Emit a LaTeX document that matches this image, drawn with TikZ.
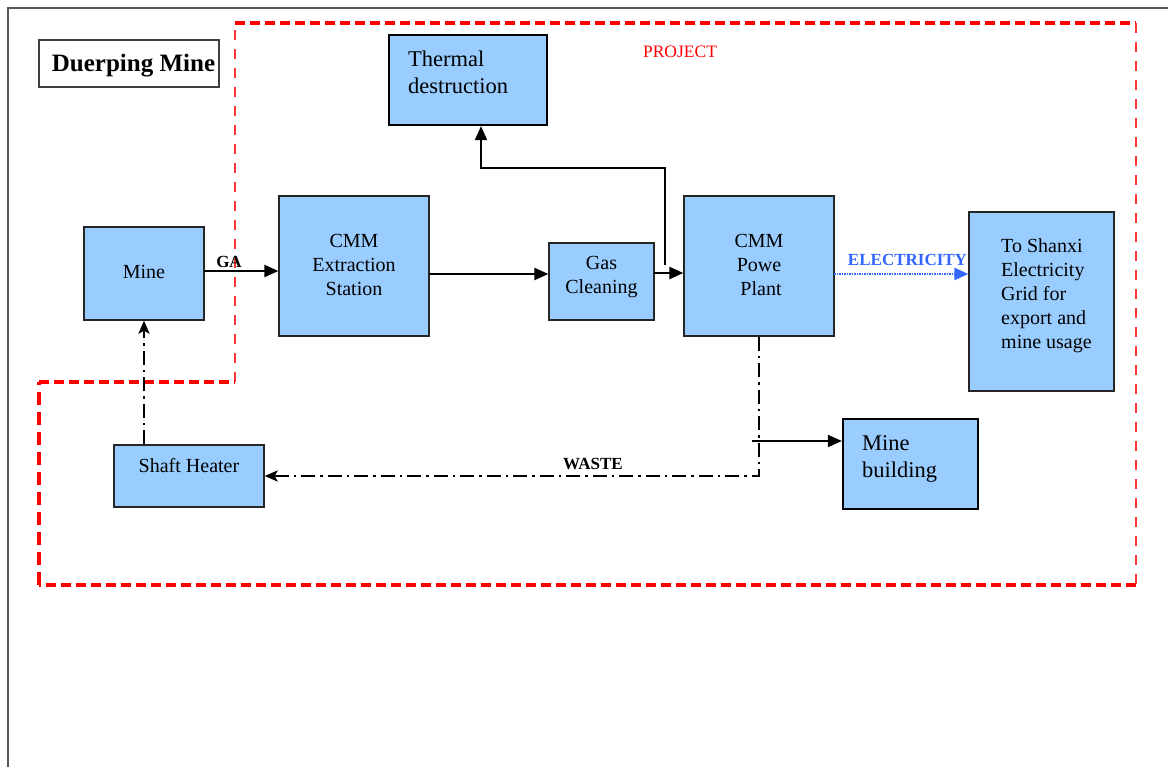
\documentclass[tikz,border=0pt]{standalone}
\usepackage{fontspec}
\setmainfont{Liberation Serif}
\usetikzlibrary{arrows.meta}
\definecolor{boxblue}{HTML}{99CCFF}
\definecolor{elblue}{HTML}{3366FF}
\definecolor{projred}{HTML}{FF0000}
\begin{document}
\begin{tikzpicture}[x=1pt,y=-1pt,
  box/.style={draw=black!85, fill=boxblue, line width=1.3pt, inner sep=0pt},
  thickbox/.style={draw=black, fill=boxblue, line width=2.2pt, inner sep=0pt},
  txt/.style={inner sep=0pt, font=\fontsize{20}{24}\selectfont, align=center},
  bigtxt/.style={inner sep=0pt, font=\fontsize{22.5}{27}\selectfont, align=left},
  lbl/.style={inner sep=0pt, font=\fontsize{17}{20}\selectfont\bfseries},
  arr/.style={line width=2.5pt, -{Triangle[length=14pt,width=12pt]}},
  thinarr/.style={line width=1.8pt, -{Triangle[length=14pt,width=12pt]}},
  dd/.style={line width=2.6pt, dash pattern=on 14pt off 5pt on 2.5pt off 5pt},
  ddtip/.style={-{Stealth[length=13pt,width=11pt,inset=3pt]}},
  redh/.style={draw=projred, line width=3.5pt, dash pattern=on 10pt off 5pt},
  redv/.style={draw=projred!80, line width=2pt, dash pattern=on 10pt off 9pt},
  redvt/.style={draw=projred, line width=3.5pt, dash pattern=on 13pt off 7pt}]
\useasboundingbox (0,0) rectangle (1168,767);
% outer frame
\draw[black!65, line width=1.8pt] (8,767) -- (8,8) -- (1168,8);
% project boundary
\draw[redv] (235,382) -- (235,22);
\draw[redh] (235,23) -- (1136,23);
\draw[redv] (1136,23) -- (1136,585);
\draw[redh] (1136,585) -- (39,585);
\draw[redvt] (39,585) -- (39,382);
\draw[redh] (39,382) -- (235,382);
\node[inner sep=0pt, text=projred, font=\fontsize{17.5}{20}\selectfont] (project) at (680,52) {PROJECT};
% title
\node[draw=black!75, line width=1.3pt, minimum width=180pt, minimum height=47pt, inner sep=0pt] (titlebox) at (129,63.5) {};
\node[inner sep=0pt, font=\fontsize{25}{30}\selectfont\bfseries] (title) at (133.5,66) {Duerping Mine};
% boxes
\node[box, minimum width=120pt, minimum height=93pt] (mine) at (144,273.5) {};
\node[txt] (minet) at (144,272) {Mine};
\node[box, minimum width=150pt, minimum height=140pt] (extr) at (354,266) {};
\node[txt] (extrt) at (354,265) {CMM\\Extraction\\Station};
\node[box, minimum width=105pt, minimum height=77pt] (gas) at (601.5,281.5) {};
\node[txt] (gast) at (601.5,277.5) {Gas\\Cleaning};
\node[box, minimum width=150pt, minimum height=140pt] (plant) at (759,266) {};
\node[txt] (plantt) at (759,265) {CMM\\Powe\\\hspace*{4pt}Plant};
\node[box, minimum width=145pt, minimum height=179pt] (grid) at (1041.5,301.5) {};
\node[txt, align=left, anchor=north west] (gridt) at (1001,238) {To Shanxi\\Electricity\\Grid for\\export and\\mine usage};
\node[thickbox, minimum width=158pt, minimum height=90pt] (thermal) at (468,80) {};
\node[bigtxt, anchor=north west] (thermalt) at (408,51) {Thermal\\destruction};
\node[thickbox, minimum width=135pt, minimum height=90pt] (building) at (910.5,464) {};
\node[bigtxt, anchor=north west] (buildingt) at (862,435) {Mine\\building};
\node[box, minimum width=150pt, minimum height=62pt] (heater) at (189,476) {};
\node[txt] (heatert) at (189,466) {Shaft Heater};
% connectors
\coordinate (m1) at (204,271);
\draw[arr] (m1) -- (m1 -| extr.west);
\node[lbl] (ga) at (229,262) {GA};
\coordinate (e1) at (429,274);
\draw[arr] (e1) -- (e1 -| gas.west);
\coordinate (g1) at (654,273);
\draw[arr] (g1) -- (g1 -| plant.west);
\coordinate (tap) at (665,265);
\draw[thinarr] (tap) -- ++(0,-97) -| ([xshift=13pt]thermal.south);
\coordinate (el) at (834,274);
\draw[elblue, line width=2.5pt, dash pattern=on 1.5pt off 1pt, -{Triangle[length=14pt,width=12pt]}] (el) -- (el -| grid.west);
\node[lbl, text=elblue] (elt) at (907.5,260) {ELECTRICITY};
\draw[dd, ddtip] (plant.south) |- (heater.east);
\node[lbl] (waste) at (593,464) {WASTE};
\coordinate (mb) at (752,441);
\draw[thinarr] (mb) -- (mb -| building.west);
\draw[dd, ddtip] (heater.north -| mine.south) -- (mine.south);
\end{tikzpicture}
\end{document}
